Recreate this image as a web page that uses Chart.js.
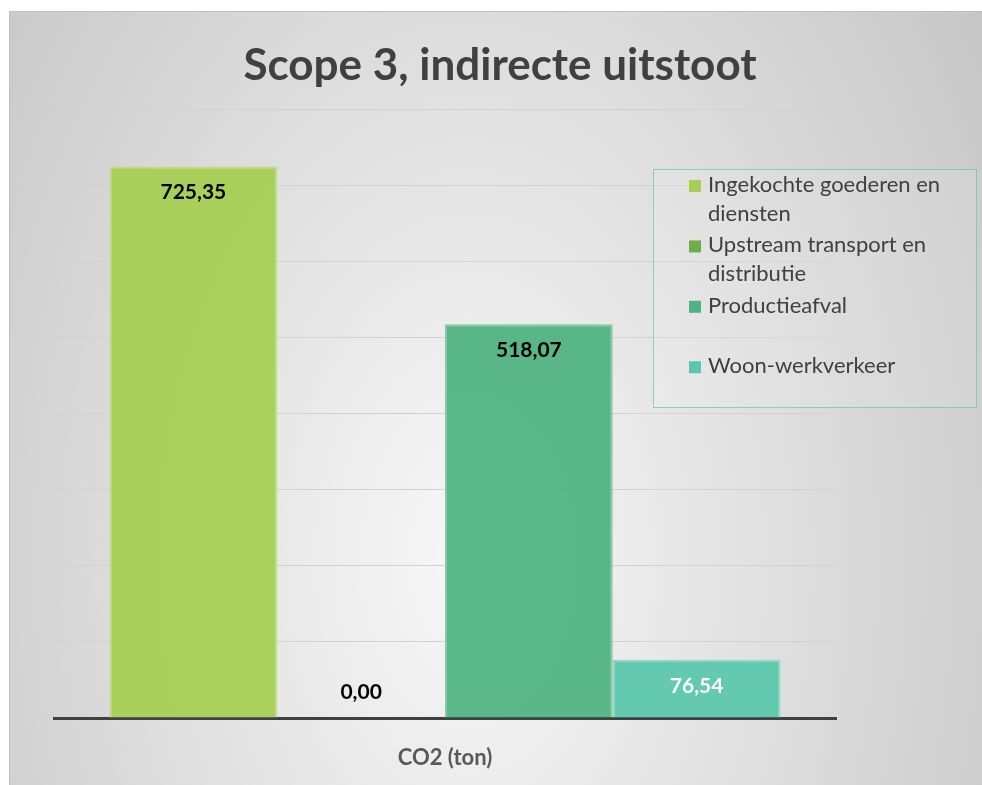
<!DOCTYPE html>
<html><head><meta charset="utf-8">
<script src="https://cdn.jsdelivr.net/npm/chart.js@4/dist/chart.umd.min.js"></script>
<style>html,body{margin:0;padding:0;background:#fff;overflow:hidden}canvas{display:block}</style>
</head><body>
<canvas id="c" width="982" height="785"></canvas>
<script>
const categories = ['CO2 (ton)'];
const seriesNames = ['Ingekochte goederen en diensten', 'Upstream transport en distributie', 'Productieafval', 'Woon-werkverkeer'];
const seriesValues = [725.35, 0.00, 518.07, 76.54];
const seriesColors = ['#a5cf52', '#6fad48', '#50b281', '#5ac8ac'];
const valueLabelColors = ['#000000', '#000000', '#000000', '#ffffff'];
const yMin = 0, yMax = 800, yStep = 100;
const titleText = 'Scope 3, indirecte uitstoot';

const FONT = 'Lato, "Open Sans", sans-serif';

function hexToRgb(h){const n=parseInt(h.slice(1),16);return [(n>>16)&255,(n>>8)&255,n&255];}
function rgba(h,a){const c=hexToRgb(h);return `rgba(${c[0]},${c[1]},${c[2]},${a})`;}
function lighten(h,t){const c=hexToRgb(h).map(v=>Math.round(v+(255-v)*t));return `rgb(${c[0]},${c[1]},${c[2]})`;}

const bgPlugin = {
  id:'bg',
  beforeDraw(chart){
    const ctx=chart.ctx;
    ctx.save();
    ctx.fillStyle='#ffffff';ctx.fillRect(0,0,chart.width,chart.height);
    const x0=9,y0=11,x1=chart.width,y1=chart.height;
    const cx=470,cy=560,rx=700,ry=1100;
    ctx.beginPath();ctx.rect(x0,y0,x1-x0,y1-y0);ctx.clip();
    ctx.translate(cx,cy);ctx.scale(1,ry/rx);
    const g=ctx.createRadialGradient(0,0,0,0,0,rx);
    g.addColorStop(0,'#f8f8f8');g.addColorStop(1,'#c0c0c0');
    ctx.fillStyle=g;ctx.fillRect(-cx-10,-cy*rx/ry-10,x1+20,(y1+20)*rx/ry+ry);
    ctx.restore();
    ctx.save();
    ctx.strokeStyle='#bfbfbf';ctx.lineWidth=1;
    ctx.beginPath();ctx.moveTo(x0+0.5,y1);ctx.lineTo(x0+0.5,y0+0.5);ctx.lineTo(x1,y0+0.5);ctx.stroke();
    ctx.restore();
  }
};

const valueLabelPlugin = {
  id:'valueLabels',
  afterDatasetsDraw(chart){
    const ctx=chart.ctx;
    ctx.save();
    ctx.font=`bold 21px ${FONT}`;
    ctx.textAlign='center';ctx.textBaseline='middle';
    chart.data.datasets.forEach((ds,i)=>{
      const meta=chart.getDatasetMeta(i);
      meta.data.forEach((bar,j)=>{
        const v=ds.data[j];
        const txt=v.toFixed(2).replace('.',',');
        const y = v===0 ? bar.base-26 : bar.y+26;
        ctx.fillStyle=valueLabelColors[i];
        ctx.fillText(txt,bar.x,y);
      });
    });
    ctx.restore();
  }
};

const legendPlugin = {
  id:'boxLegend',
  afterDraw(chart){
    const ctx=chart.ctx;
    const bx=653.5,by=169.5,bw=323,bh=238;
    ctx.save();
    ctx.fillStyle='rgba(255,255,255,0.12)';
    ctx.fillRect(bx,by,bw,bh);
    ctx.strokeStyle='rgba(110,200,165,0.75)';ctx.lineWidth=1;
    ctx.strokeRect(bx,by,bw,bh);
    ctx.font=`22px ${FONT}`;
    ctx.textBaseline='alphabetic';ctx.textAlign='left';
    const tx=708,maxW=262,pitch=60.4,lineH=28.5;
    chart.data.datasets.forEach((ds,i)=>{
      const base=192+pitch*i;
      ctx.fillStyle=seriesColors[i];
      ctx.fillRect(689,base-12,12,12);
      const words=ds.label.split(' ');
      let lines=[],cur='';
      words.forEach(w=>{const t=cur?cur+' '+w:w; if(ctx.measureText(t).width>maxW&&cur){lines.push(cur);cur=w;}else cur=t;});
      if(cur)lines.push(cur);
      ctx.fillStyle='#404040';
      lines.forEach((l,k)=>ctx.fillText(l,tx,base+k*lineH));
    });
    ctx.restore();
  }
};

new Chart(document.getElementById('c'),{
  type:'bar',
  data:{
    labels:categories,
    datasets:seriesNames.map((n,i)=>({
      label:n,
      data:[seriesValues[i]],
      backgroundColor:rgba(seriesColors[i],0.94),
      borderColor:lighten(seriesColors[i],0.3),
      borderWidth:{left:2,right:2,top:2,bottom:0},
      borderSkipped:false,
      barPercentage:1,
      categoryPercentage:0.858
    }))
  },
  options:{
    responsive:false,
    animation:false,
    devicePixelRatio:1,
    layout:{padding:{left:18,right:0,top:11,bottom:0}},
    plugins:{
      legend:{display:false},
      tooltip:{enabled:false},
      title:{display:true,text:titleText,color:'#404040',font:{family:FONT,size:44,weight:'bold'},padding:{top:28,bottom:18}}
    },
    scales:{
      x:{
        grid:{display:false,drawTicks:false},
        border:{display:true,color:'#404040',width:3},
        ticks:{color:'#595959',font:{family:FONT,size:22,weight:'bold'},padding:27},
        afterFit(scale){scale.height=67;}
      },
      y:{
        min:yMin,max:yMax,
        ticks:{display:false,stepSize:yStep},
        grid:{drawTicks:false,color:c=>c.tick.value===0?'rgba(0,0,0,0)':'#d2d2d2',lineWidth:1},
        border:{display:false},
        afterFit(scale){scale.width=36;}
      },
      yRight:{
        position:'right',
        display:true,
        min:yMin,max:yMax,
        ticks:{display:false},
        grid:{display:false,drawTicks:false},
        border:{display:false},
        afterFit(scale){scale.width=146;}
      }
    }
  },
  plugins:[bgPlugin,valueLabelPlugin,legendPlugin]
});
</script>
</body></html>
